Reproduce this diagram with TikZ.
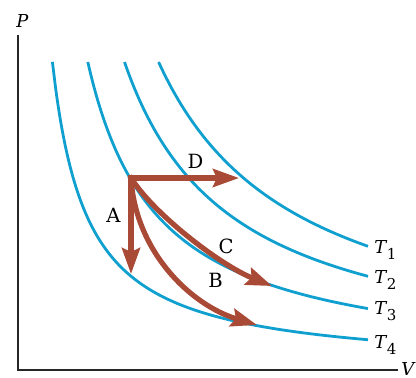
\documentclass[tikz,border=0pt]{standalone}
\usepackage{fontspec}
\setmainfont{DejaVu Serif}
\usetikzlibrary{arrows.meta}
\definecolor{isoblue}{RGB}{16,160,208}
\definecolor{procred}{RGB}{168,74,54}
\newcommand\Tlab[1]{\textit{T}\kern0.3pt\raisebox{-3pt}{\upshape\fontsize{7.5}{9}\selectfont #1}}
\begin{document}
\begin{tikzpicture}[x=0.5pt,y=-0.5pt,
  axis/.style={line width=1pt,black!85},
  isotherm/.style={line width=1.4pt,isoblue},
  proc/.style={line width=2.6pt,procred,shorten <=-1.3pt,-{Stealth[length=13pt,width=9pt,inset=2pt]}},
  lbl/.style={font=\fontsize{9.8}{12}\selectfont,inner sep=0pt,anchor=base},
  tlbl/.style={font=\fontsize{8.9}{11}\selectfont\itshape,inner sep=0pt,anchor=base west}]
\useasboundingbox (0,0) rectangle (416,377);
% axes
\coordinate (O) at (18,370);
\coordinate (Ptop) at (18,35);
\coordinate (Vend) at (398,370);
\draw[axis] (Ptop) -- (O) -- (Vend);
\node[tlbl] (Plab) at (16,27) {P};
\node[tlbl] (Vlab) at (401,375) {V};
% isotherms
\foreach \k/\us in {106/0.344, 215/0.698, 328/1.065, 433/1.406}
  \draw[isotherm] plot[domain=\us:3.5, samples=80, smooth] ({18+100*\x},{370-\k/\x});
\node[tlbl] (T1) at (374,253) {\Tlab{1}};
\node[tlbl] (T2) at (374,283) {\Tlab{2}};
\node[tlbl] (T3) at (374,314) {\Tlab{3}};
\node[tlbl] (T4) at (374,348) {\Tlab{4}};
% processes
\coordinate (S) at (131,178);
\coordinate (Aend) at (131,274);
\coordinate (Bend) at (257,325);
\coordinate (Cend) at (272,286);
\coordinate (Dend) at (239,178);
\draw[proc] (S) -- (Dend);
\draw[proc] (S) -- (Aend);
\draw[proc] (S) .. controls (134,250) and (190,305) .. (Bend);
\draw[proc] (S) .. controls (152,213) and (220,265) .. (Cend);
\node[lbl] (Alab) at (113.5,222) {A};
\node[lbl] (Blab) at (215.5,287) {B};
\node[lbl] (Clab) at (226,253) {C};
\node[lbl] (Dlab) at (195.5,168) {D};
\end{tikzpicture}
\end{document}
